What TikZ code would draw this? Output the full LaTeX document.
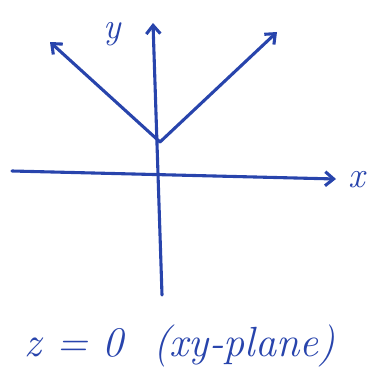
\documentclass[tikz,border=0pt]{standalone}
\usetikzlibrary{arrows.meta}
\definecolor{pen}{RGB}{40,68,172}
\begin{document}
\begin{tikzpicture}[x=0.025cm, y=-0.025cm, line width=2.2pt, pen, line cap=round,
    axis/.style={-{Straight Barb[length=6pt, width=10pt]}},
    lbl/.style={font=\itshape\fontsize{26}{28}\selectfont, inner sep=0pt}]
      % fix the page to the sketch size
      \path[use as bounding box] (0,0) rectangle (377,381);

      \coordinate (vtx) at (160,142);
      \coordinate (ltip) at (50,42);
      \coordinate (rtip) at (277,32);
      \coordinate (ybot) at (162,295);
      \coordinate (ytop) at (153,23);
      \coordinate (xl) at (12,171);
      \coordinate (xr) at (336,179);

      \draw[axis] (ybot) -- (ytop);
      \draw[axis] (xl) -- (xr);
      \draw[axis] (vtx) -- (ltip);
      \draw[axis] (vtx) -- (rtip);

      \node[lbl] (ylab) at (112,34) {y};
      \node[lbl] (xlab) at (357,180) {x};
      \node[lbl, font=\itshape\fontsize{30}{32}\selectfont] (plane) at (180,346) {z = 0 \ (xy-plane)};
    \end{tikzpicture}
\end{document}
